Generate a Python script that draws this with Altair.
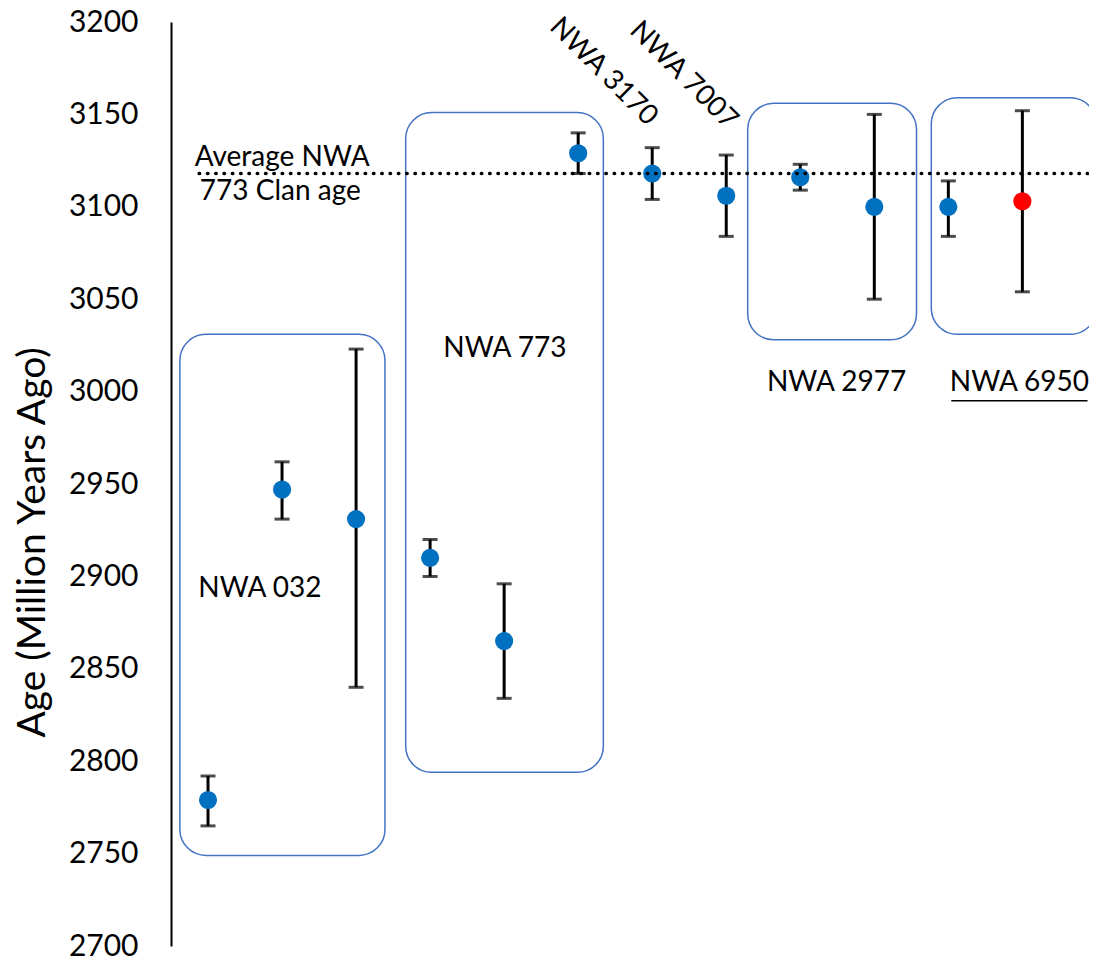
import altair as alt
import pandas as pd

FONT = "Lato"

# sample data
sample_x = [1, 2, 3, 4, 5, 6, 7, 8, 9, 10, 11, 12]
ages = [2779, 2947, 2931, 2910, 2865, 3129, 3118, 3106, 3116, 3100, 3100, 3103]
upper = [2792, 2962, 3023, 2920, 2896, 3140, 3132, 3128, 3123, 3150, 3114, 3152]
lower = [2765, 2931, 2840, 2900, 2834, 3118, 3104, 3084, 3109, 3050, 3084, 3054]
kinds = ["clan"] * 11 + ["new"]

# group boxes
box_names = ["NWA 032", "NWA 773", "NWA 2977", "NWA 6950"]
box_x = [0.62, 3.67, 8.29, 10.77]
box_x2 = [3.39, 6.34, 10.57, 13.0]
box_top = [3031, 3151, 3156, 3159]
box_bottom = [2749, 2794, 3028, 3031]

# average clan age
avg_age = 3118
avg_x = [0.88, 13.0]

# annotations
lab_text = ["NWA 032", "NWA 773", "NWA 2977", "NWA 6950"]
lab_x = [1.70, 5.01, 9.49, 11.96]
lab_y = [2893, 3023, 3004.5, 3004.5]

rot_text = ["NWA 3170", "NWA 7007"]
rot_x = [6.34, 7.42]
rot_y = [3173, 3171]

avg_text = ["Average NWA", "773 Clan age"]
avg_tx = [0.82, 0.89]
avg_ty = [3126.5, 3108]

underline_x = [11.04, 12.88]
underline_y = 2995

pts = pd.DataFrame({"x": sample_x, "age": ages, "hi": upper, "lo": lower, "kind": kinds})
boxes = pd.DataFrame({"name": box_names, "x": box_x, "x2": box_x2, "top": box_top, "bottom": box_bottom})
avg_df = pd.DataFrame({"x": [avg_x[0]], "x2": [avg_x[1]], "y": [avg_age]})
labs = pd.DataFrame({"t": lab_text, "x": lab_x, "y": lab_y})
rots = pd.DataFrame({"t": rot_text, "x": rot_x, "y": rot_y})
avgt = pd.DataFrame({"t": avg_text, "x": avg_tx, "y": avg_ty})
ul = pd.DataFrame({"x": [underline_x[0]], "x2": [underline_x[1]], "y": [underline_y]})

xs = alt.Scale(domain=[0.5, 12.9], nice=False, zero=False)
ys = alt.Scale(domain=[2700, 3200], nice=False, zero=False)

X = lambda f="x": alt.X(f"{f}:Q", scale=xs, axis=None)
YY = lambda f: alt.Y(f"{f}:Q", scale=ys)
y_axis = alt.Axis(title="Age (Million Years Ago)", values=list(range(2700, 3201, 50)), format="d",
                  ticks=False, grid=False, domainColor="black", domainWidth=2,
                  labelFontSize=30, labelFont=FONT, labelColor="black", labelPadding=33,
                  titleFontSize=39, titleFont=FONT, titleFontWeight="normal",
                  titleColor="black", titleAngle=-90, titleAlign="center",
                  titleBaseline="bottom", titleX=-119, titleY=520)

boxes_layer = alt.Chart(boxes).mark_rect(
    cornerRadius=26, fillOpacity=0, stroke="#4472C4", strokeWidth=1.5
).encode(x=X(), x2="x2:Q", y=alt.Y("top:Q", scale=ys, axis=y_axis), y2="bottom:Q")

rules = alt.Chart(pts).mark_rule(color="black", strokeWidth=3).encode(
    x=X(), y=YY("lo"), y2="hi:Q")
caps_hi = alt.Chart(pts).mark_tick(color="black", orient="horizontal", size=15, thickness=3).encode(
    x=X(), y=YY("hi"))
caps_lo = alt.Chart(pts).mark_tick(color="black", orient="horizontal", size=15, thickness=3).encode(
    x=X(), y=YY("lo"))

points = alt.Chart(pts).mark_circle(size=330, opacity=1).encode(
    x=X(), y=YY("age"),
    color=alt.Color("kind:N", scale=alt.Scale(domain=["clan", "new"], range=["#0070C0", "#FF0000"]), legend=None))

avg_line = alt.Chart(avg_df).mark_rule(
    color="black", strokeWidth=3.5, strokeDash=[0.5, 7.8], strokeCap="round"
).encode(x=X(), x2="x2:Q", y=YY("y"))

labs_layer = alt.Chart(labs).mark_text(font=FONT, fontSize=28, color="black", align="center", baseline="middle").encode(
    x=X(), y=YY("y"), text="t:N")
rots_layer = alt.Chart(rots).mark_text(font=FONT, fontSize=28, color="black", align="center", baseline="middle", angle=45).encode(
    x=X(), y=YY("y"), text="t:N")
avgt_layer = alt.Chart(avgt).mark_text(font=FONT, fontSize=28, color="black", align="left", baseline="middle").encode(
    x=X(), y=YY("y"), text="t:N")
ul_layer = alt.Chart(ul).mark_rule(color="black", strokeWidth=1.5).encode(
    x=X(), x2="x2:Q", y=YY("y"))

chart = alt.layer(
    boxes_layer, rules, caps_hi, caps_lo, points, avg_line, labs_layer, rots_layer, avgt_layer, ul_layer
).properties(
    width=918, height=924,
    background="white",
    autosize=alt.AutoSizeParams(type="none"),
    padding={"left": 163, "top": 14, "right": 0, "bottom": 14},
).configure_view(strokeWidth=0).configure_axis(grid=False)

chart.save("out.html", embed_options={"renderer": "svg", "actions": False})
